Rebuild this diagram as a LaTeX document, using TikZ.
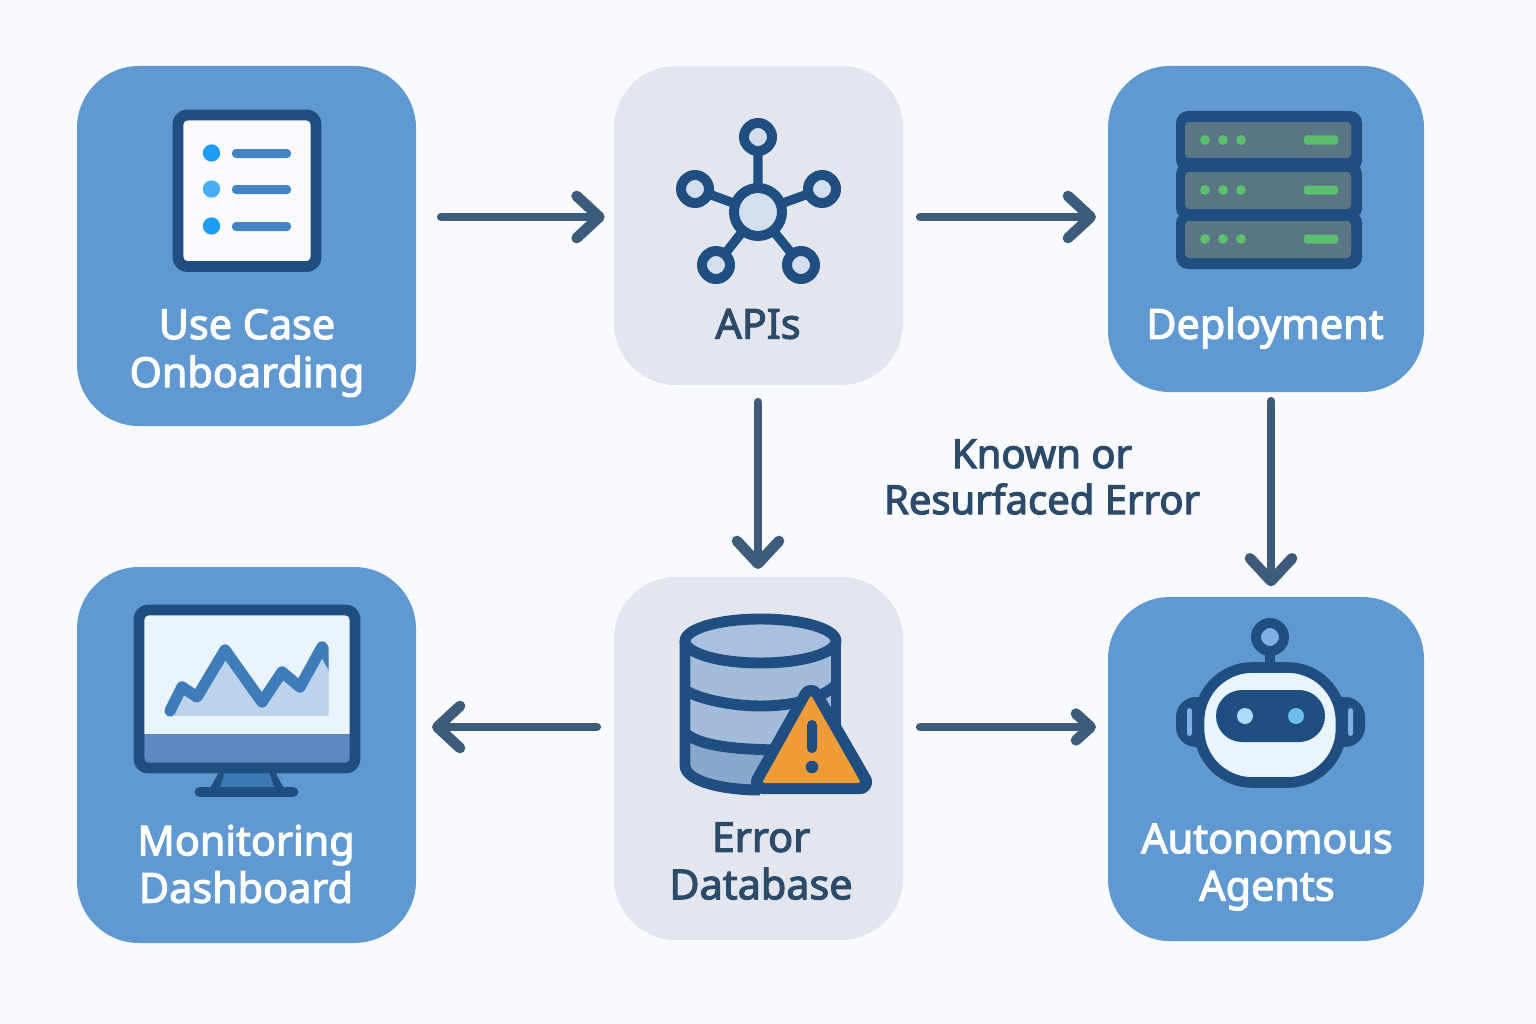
\documentclass[tikz,border=0pt]{standalone}
\usepackage{fontspec}
\setmainfont{Noto Sans}
\newcommand{\wtOn}{\special{pdf:code 2 Tr 0.85 w}}
\newcommand{\wtOff}{\special{pdf:code 0 Tr}}
\usetikzlibrary{arrows.meta,calc}
\definecolor{bgc}{HTML}{F8FAFE}
\definecolor{bluec}{HTML}{6098D2}
\definecolor{grayc}{HTML}{E3E6ED}
\definecolor{darkc}{HTML}{1F4E80}
\definecolor{arrowc}{HTML}{3D5C7C}
\definecolor{inkc}{HTML}{2C4A6A}
\definecolor{lightc}{HTML}{D3DFEE}
\definecolor{paper}{HTML}{F9FBFE}
\definecolor{bullet}{HTML}{1E9DF5}
\definecolor{bulletm}{HTML}{4AAEF5}
\definecolor{linec}{HTML}{4584C2}
\definecolor{slatec}{HTML}{5A7685}
\definecolor{greenc}{HTML}{5CBF6E}
\definecolor{screenc}{HTML}{EAF4FD}
\definecolor{barc}{HTML}{5B8AC2}
\definecolor{chartc}{HTML}{BDD3EB}
\definecolor{chartl}{HTML}{3F7CBA}
\definecolor{standc}{HTML}{3B78B4}
\definecolor{dbA}{HTML}{A9C1DE}
\definecolor{dbB}{HTML}{A4BCDA}
\definecolor{dbC}{HTML}{8AA8CE}
\definecolor{warnc}{HTML}{EE9C38}
\definecolor{eyeA}{HTML}{A8DCF8}
\definecolor{eyeB}{HTML}{6CBDEB}
\definecolor{slotc}{HTML}{7DB0E4}
\tikzset{
 x=0.75pt,y=-0.75pt,
 card/.style={rounded corners=46.5pt,inner sep=0pt,outer sep=0pt,anchor=north west},
 bluecard/.style={card,fill=bluec},
 graycard/.style={card,fill=grayc},
 lab/.style={align=center,font=\fontsize{31}{35.5}\selectfont,inner sep=0pt,text=white},
 labd/.style={lab,text=inkc},
 flow/.style={draw=arrowc,line width=6.7pt,line cap=round,line join=round,
   -{Straight Barb[length=17pt,width=31.5pt,line width=8pt,round]}},
 flowsm/.style={draw=arrowc,line width=6.7pt,line cap=round,line join=round,
   -{Straight Barb[length=11pt,width=20pt,line width=8pt,round]}},
 ico/.style={draw=darkc,line width=8.2pt,line join=round},
 hub/.style={ico,line width=7.5pt,fill=lightc},
}
\begin{document}
\begin{tikzpicture}
\useasboundingbox (0,0) rectangle (1536,1024);
\fill[bgc] (0,0) rectangle (1536,1024);
% cards
\node[bluecard,minimum width=254.25pt,minimum height=270pt] (uc) at (77,66) {};
\node[graycard,minimum width=216.75pt,minimum height=239.25pt] (api) at (614,66) {};
\node[bluecard,minimum width=237pt,minimum height=244.5pt] (dep) at (1108,66) {};
\node[bluecard,minimum width=254.25pt,minimum height=282pt] (mon) at (77,567) {};
\node[graycard,minimum width=216.75pt,minimum height=272.25pt] (db) at (614,577) {};
\node[bluecard,minimum width=237pt,minimum height=258pt] (ag) at (1108,597) {};
% connectors
\coordinate (rowA) at (0,217);
\coordinate (rowB) at (0,727);
\coordinate (colA) at (758,0);
\coordinate (colB) at (1271,0);
\draw[flow,shorten <=19pt,shorten >=7pt] (uc.east |- rowA) -- (api.west |- rowA);
\draw[flow,shorten <=13pt,shorten >=9pt] (api.east |- rowA) -- (dep.west |- rowA);
\draw[flow,shorten <=13pt,shorten >=6pt] (api.south -| colA) -- (db.north -| colA);
\draw[flow,shorten <=7pt,shorten >=8pt] (dep.south -| colB) -- (ag.north -| colB);
\draw[flow,shorten <=13pt,shorten >=12pt] (db.west |- rowB) -- (mon.east |- rowB);
\draw[flowsm,shorten <=13pt,shorten >=9pt] (db.east |- rowB) -- (ag.west |- rowB);
% Use case icon
\draw[ico,rounded corners=7pt,fill=paper] (178,115) rectangle (316,266.5);
\fill[bullet] (211.5,153) circle (6.5pt);
\fill[bulletm] (211.5,189) circle (6.5pt);
\fill[bullet] (211.5,226) circle (6.5pt);
\fill[rounded corners=3pt,linec] (232,149) rectangle (291,158);
\fill[rounded corners=3pt,linec] (232,185) rectangle (291,194);
\fill[rounded corners=3pt,linec] (232,222) rectangle (291,231);
% API icon
\draw[darkc,line width=7pt] (758,137) -- (758,212) (695,189) -- (758,212) (822,189) -- (758,212) (716,265) -- (758,212) (801,265) -- (758,212);
\draw[hub] (758,137) circle (10.5pt);
\draw[hub] (695,189) circle (10.5pt);
\draw[hub] (822,189) circle (10.5pt);
\draw[hub] (716,265) circle (10.5pt);
\draw[hub] (801,265) circle (10.5pt);
\draw[hub] (758,212) circle (18pt);
% Server icon
\foreach \ya/\yb in {111/172,162/220,211/269}{
  \fill[darkc,rounded corners=9pt] (1176,\ya) rectangle (1362,\yb);
}
\foreach \ya/\yb/\yc in {122/158/140,172/209/190,221/258/239}{
  \fill[slatec,rounded corners=3pt] (1185,\ya) rectangle (1351,\yb);
  \foreach \xx in {1205,1223,1241}{\fill[greenc] (\xx,\yc) circle (3.7pt);}
  \fill[greenc,rounded corners=2pt] (1304,\yc-4.5) rectangle (1338,\yc+4.5);
}
% Monitor icon
\fill[darkc] (221,768) -- (273,768) -- (286,792) -- (208,792) -- cycle;
\fill[standc] (225,772) -- (269,772) -- (274,787) -- (220,787) -- cycle;
\draw[darkc,line width=8pt,line cap=round] (200,792) -- (293,792);
\fill[screenc] (139,610) rectangle (355,768);
\fill[barc] (142,734) rectangle (352,765);
\begin{scope}
\clip (160,630) rectangle (328.5,725);
\fill[chartc,rounded corners=2pt] (170,716) -- (182,687) -- (197,697) -- (225,650) -- (262,702) -- (282,672) -- (300,687) -- (322,647) -- (335,670) -- (335,716) -- cycle;
\draw[chartl,line width=8.5pt,line join=round,line cap=round] (170,711) -- (182,687) -- (197,697) -- (225,650) -- (262,702) -- (282,672) -- (300,687) -- (322,647) -- (335,670);
\end{scope}
\draw[ico,rounded corners=7pt] (139,610) rectangle (355,768);
% Database icon
\fill[dbB] (685,641) -- (685,765) .. controls (685,782) and (725,790) .. (760,790) -- (836,790) -- (836,641) -- cycle;
\fill[dbC] (685,733) .. controls (700,746) and (735,750) .. (790,750) -- (790,790) -- (760,790) .. controls (725,790) and (685,782) .. (685,765) -- cycle;
\draw[ico] (685,641) -- (685,765) .. controls (685,782) and (725,790) .. (760,790);
\draw[ico] (685,690) .. controls (700,700) and (735,706) .. (760,706) .. controls (790,706) and (820,700) .. (836,685);
\draw[ico] (685,733) .. controls (700,746) and (735,750) .. (790,750);
\draw[ico] (836,641) -- (836,740);
\draw[ico,fill=dbA] (760.5,641) ellipse (56.6pt and 16.5pt);
\draw[darkc,fill=darkc,line width=18pt,line join=round] (811,697) -- (860,782) -- (763,782) -- cycle;
\fill[warnc,rounded corners=2pt] (811,695) -- (861,783) -- (762,783) -- cycle;
\fill[darkc,rounded corners=3.7pt] (807,720) rectangle (817,753);
\fill[darkc] (812,767) circle (4.7pt);
% Robot icon
\fill[darkc,rounded corners=15pt] (1176,697) rectangle (1365,747);
\fill[slotc,rounded corners=2pt] (1187,708) rectangle (1192,736);
\fill[slotc,rounded corners=2pt] (1348,708) rectangle (1353,736);
\draw[darkc,line width=7.5pt] (1270,650) -- (1270,668);
\draw[ico,line width=7.5pt,fill=slotc] (1270,637) circle (10.5pt);
\draw[ico,line width=8pt,fill=screenc,rounded corners=40pt] (1199,667.5) rectangle (1341,782.5);
\fill[darkc,rounded corners=19.5pt] (1216,690) rectangle (1325,742);
\fill[eyeA] (1245,716) circle (6pt);
\fill[eyeB] (1296,716) circle (6pt);
% Labels
\node[lab] (tuc) at (247,353) {\wtOn Use Case\\[0.5pt]Onboarding\wtOff};
\node[labd] (tapi) at (758,324) {\wtOn APIs\wtOff};
\node[lab] (tdep) at (1265,328) {\wtOn Deployment\wtOff};
\node[lab] (tmon) at (246,864) {\wtOn Monitoring\\Dashboard\wtOff};
\node[labd] (tdb) at (761,861) {\wtOn Error\\Database\wtOff};
\node[lab] (tag) at (1267,867) {\wtOn Autonomous\\Agents\wtOff};
\node[labd,font=\fontsize{30}{34.5}\selectfont] (tk) at (1042,477) {\wtOn Known or\\Resurfaced Error\wtOff};
\end{tikzpicture}
\end{document}
